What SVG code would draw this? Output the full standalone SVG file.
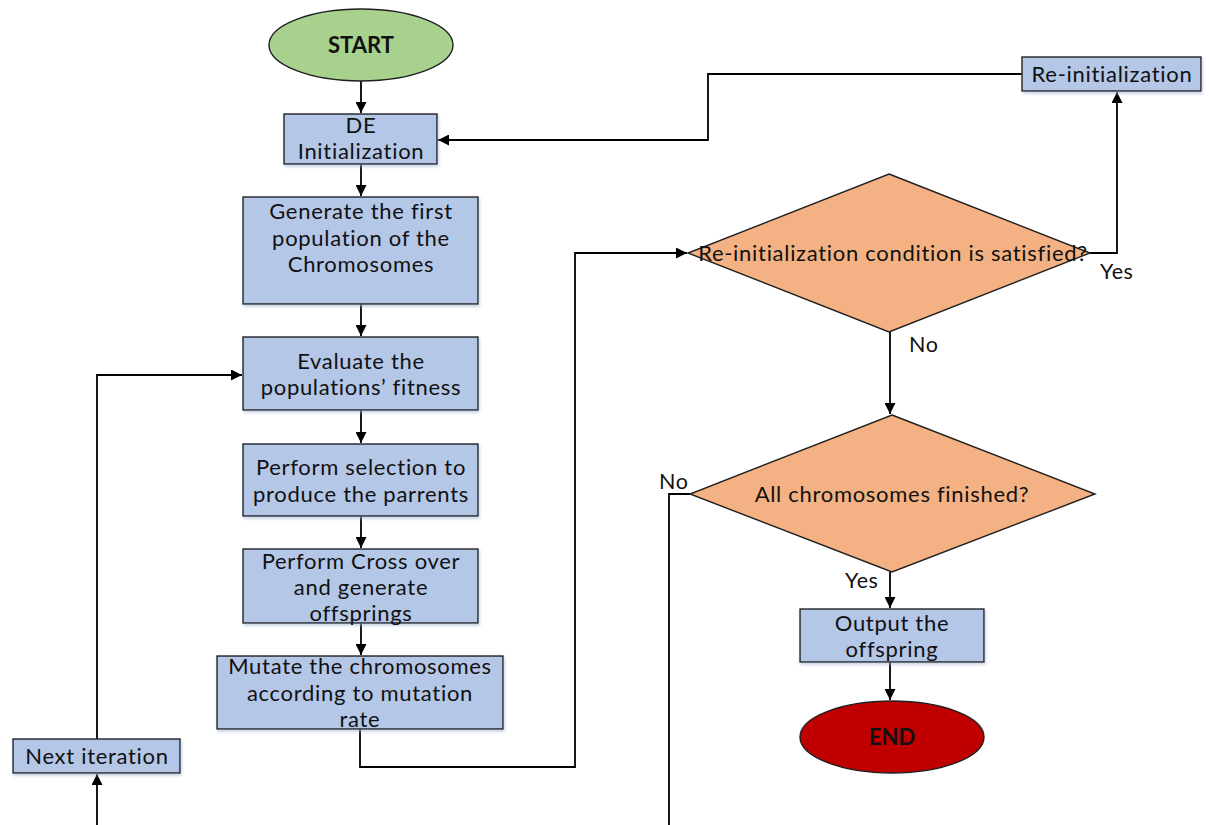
<svg xmlns="http://www.w3.org/2000/svg" width="1209" height="825" viewBox="0 0 1209 825">
  <style>
    .box { fill: #B4C7E7; stroke: #1f1f1f; stroke-width: 1.4; }
    .dec { fill: #F4B183; stroke: #1f1f1f; stroke-width: 1.4; }
    .t { font-family: Lato, "Open Sans", sans-serif; font-size: 22px; letter-spacing: 0.7px; fill: #111; text-anchor: middle; }
    .lbl { font-family: Lato, "Open Sans", sans-serif; font-size: 21.5px; letter-spacing: 0.6px; fill: #111; }
    .b { font-weight: bold; font-size: 22px; letter-spacing: 0; }
    .c { fill: none; stroke: #000; stroke-width: 1.8; }
  </style>
  <defs>
    <marker id="arr" viewBox="0 0 10 10" refX="10" refY="5" markerWidth="11" markerHeight="11" markerUnits="userSpaceOnUse" orient="auto">
      <path d="M0,0 L10,5 L0,10 z" fill="#000"/>
    </marker>
    <filter id="sh" x="-10%" y="-10%" width="130%" height="130%">
      <feDropShadow dx="1" dy="2" stdDeviation="1.5" flood-color="#9fb3cf" flood-opacity="0.6"/>
    </filter>
  </defs>
  <rect width="1209" height="825" fill="#fff"/>

  <g id="connectors">
    <path class="c" d="M361,81 V113" marker-end="url(#arr)"/>
    <path class="c" d="M361,164 V196" marker-end="url(#arr)"/>
    <path class="c" d="M361,304 V336" marker-end="url(#arr)"/>
    <path class="c" d="M361,410 V443" marker-end="url(#arr)"/>
    <path class="c" d="M361,516 V548" marker-end="url(#arr)"/>
    <path class="c" d="M361,623 V655" marker-end="url(#arr)"/>
    <path class="c" d="M360,729 V767 H575 V253 H687" marker-end="url(#arr)"/>
    <path class="c" d="M1090,253 H1117 V92" marker-end="url(#arr)"/>
    <path class="c" d="M1022,74 H708 V140 H438" marker-end="url(#arr)"/>
    <path class="c" d="M890,332 V414" marker-end="url(#arr)"/>
    <path class="c" d="M890,572 V608" marker-end="url(#arr)"/>
    <path class="c" d="M890,662 V700" marker-end="url(#arr)"/>
    <path class="c" d="M690,494 H669 V825"/>
    <path class="c" d="M97,825 V774" marker-end="url(#arr)"/>
    <path class="c" d="M97,739 V375 H242" marker-end="url(#arr)"/>
  </g>

  <g id="start">
    <ellipse cx="361" cy="45" rx="92" ry="36" fill="#A9D18E" stroke="#1f1f1f" stroke-width="1.4"/>
    <text class="t b" x="361" y="52.5">START</text>
  </g>
  <g id="de-init">
    <rect class="box" filter="url(#sh)" x="284" y="114" width="153" height="50"/>
    <text class="t" x="361" y="132.5">DE</text>
    <text class="t" x="361" y="158.5">Initialization</text>
  </g>
  <g id="generate">
    <rect class="box" filter="url(#sh)" x="243" y="197" width="235" height="107"/>
    <text class="t" x="361" y="218.5">Generate the first</text>
    <text class="t" x="361" y="245.5">population of the</text>
    <text class="t" x="361" y="271.5">Chromosomes</text>
  </g>
  <g id="evaluate">
    <rect class="box" filter="url(#sh)" x="243" y="337" width="235" height="73"/>
    <text class="t" x="361" y="368.5">Evaluate the</text>
    <text class="t" x="361" y="394.5">populations’ fitness</text>
  </g>
  <g id="selection">
    <rect class="box" filter="url(#sh)" x="243" y="444" width="235" height="72"/>
    <text class="t" x="361" y="474.5">Perform selection to</text>
    <text class="t" x="361" y="501.5">produce the parrents</text>
  </g>
  <g id="crossover">
    <rect class="box" filter="url(#sh)" x="243" y="549" width="235" height="74"/>
    <text class="t" x="361" y="568.5">Perform Cross over</text>
    <text class="t" x="361" y="594.5">and generate</text>
    <text class="t" x="361" y="620.5">offsprings</text>
  </g>
  <g id="mutate">
    <rect class="box" filter="url(#sh)" x="217" y="656" width="286" height="73"/>
    <text class="t" x="360" y="673.5">Mutate the chromosomes</text>
    <text class="t" x="360" y="700.5">according to mutation</text>
    <text class="t" x="360" y="726.5">rate</text>
  </g>
  <g id="next-iteration">
    <rect class="box" filter="url(#sh)" x="13" y="739" width="167" height="34"/>
    <text class="t" x="97" y="763.5">Next iteration</text>
  </g>
  <g id="reinit-condition">
    <polygon class="dec" points="889,174 1090,253 889,332 688,253"/>
    <text class="t" x="893" y="260.5">Re-initialization condition is satisfied?</text>
  </g>
  <g id="reinit">
    <rect class="box" filter="url(#sh)" x="1022" y="57" width="179" height="34"/>
    <text class="t" x="1112" y="81.5">Re-initialization</text>
  </g>
  <g id="all-finished">
    <polygon class="dec" points="892,415 1095,494 892,572 690,494"/>
    <text class="t" x="892" y="501.5">All chromosomes finished?</text>
  </g>
  <g id="output">
    <rect class="box" filter="url(#sh)" x="800" y="609" width="184" height="53"/>
    <text class="t" x="892" y="630.5">Output the</text>
    <text class="t" x="892" y="656.5">offspring</text>
  </g>
  <g id="end">
    <ellipse cx="892" cy="737" rx="92" ry="36" fill="#C00000" stroke="#1f1f1f" stroke-width="1.4"/>
    <text class="t b" x="892" y="744.5">END</text>
  </g>

  <g id="labels">
    <text class="lbl" x="1100" y="279">Yes</text>
    <text class="lbl" x="909" y="352">No</text>
    <text class="lbl" x="659" y="489">No</text>
    <text class="lbl" x="845" y="588">Yes</text>
  </g>
</svg>
